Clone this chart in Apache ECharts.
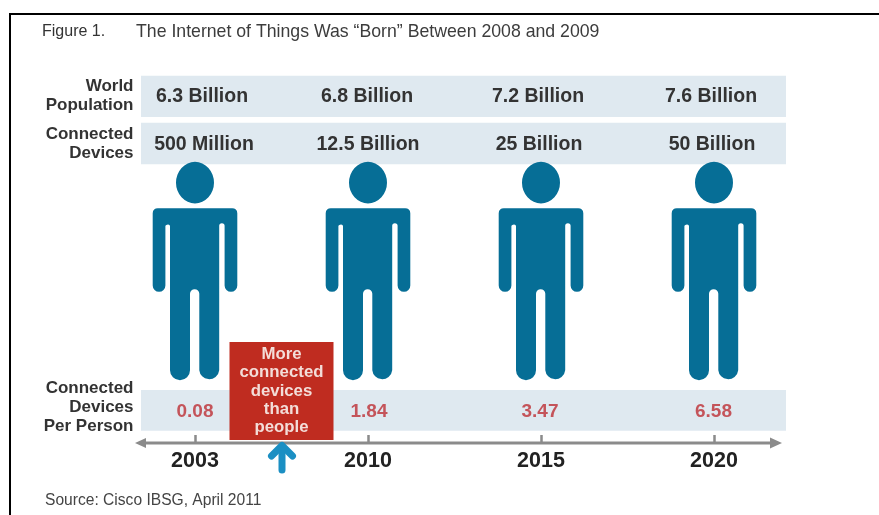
<!DOCTYPE html>
<html>
<head>
<meta charset="utf-8">
<style>html,body{margin:0;padding:0;background:#fff}#chart{width:879px;height:515px}</style>
<script src="https://cdn.jsdelivr.net/npm/echarts@6/dist/echarts.min.js"></script>
</head>
<body>
<div id="chart"></div>
<script>
// Table values
const years = ['2003', '2010', '2015', '2020'];
const worldPopulation = ['6.3 Billion', '6.8 Billion', '7.2 Billion', '7.6 Billion'];
const connectedDevices = ['500 Million', '12.5 Billion', '25 Billion', '50 Billion'];
const devicesPerPerson = [0.08, 1.84, 3.47, 6.58];

// The vertical axis runs in layout units from the top of the page down to the timeline
const AXIS_Y = 443;
const ROW_POPULATION_Y = 96.5;
const ROW_DEVICES_Y = 144.5;
const ROW_RATIO_Y = 411.5;
const PERSON_Y = 271;

const FONT = '"Liberation Sans", Arial, sans-serif';
const BAND = '#dfe9f0';
const BLUE = '#066e96';
const GREY = '#8b8b8b';
const RED_TEXT = '#c4545a';

// Standing figure: head plus body with arms and legs
const PERSON_PATH = 'path://M42.3 0A19 20.8 0 1 1 42.29 0Z' +
  'M5 46.3L79.6 46.3A5 5 0 0 1 84.6 51.3L84.6 123.65A6.35 6.35 0 0 1 71.9 123.65L71.9 64' +
  'A2.7 2.7 0 0 0 66.5 64L66.5 208.3A10 10 0 0 1 46.6 208.3L46.6 132' +
  'A4.65 4.65 0 0 0 37.3 132L37.3 208.3A10 10 0 0 1 17.3 208.3L17.3 64' +
  'A2.7 2.7 0 0 0 12.7 64L12.7 123.65A6.35 6.35 0 0 1 0 123.65L0 51.3A5 5 0 0 1 5 46.3Z';

// One row of centred text, one entry per year
function textRow(name, texts, y, style, offsets) {
  return {
    name, type: 'scatter', symbolSize: 0, silent: true, z: 5,
    itemStyle: { opacity: 1 },
    data: texts.map((t, i) => ({
      value: [years[i], y],
      label: { offset: [offsets ? offsets[i] : 0, 0] }
    })),
    label: Object.assign({
      show: true, position: 'inside', fontFamily: FONT,
      formatter: p => texts[p.dataIndex]
    }, style)
  };
}

function band(y, h) {
  return { type: 'rect', z: 1, shape: { x: 141, y, width: 645, height: h }, style: { fill: BAND } };
}

function rowTitle(lines, y) {
  return {
    type: 'text', z: 3, x: 133.5, y,
    style: {
      text: lines.join('\n'), align: 'right', verticalAlign: 'top', lineHeight: 19,
      font: 'bold 17px ' + FONT, fill: '#333'
    }
  };
}

const chart = echarts.init(document.getElementById('chart'), null, { renderer: 'canvas' });

chart.setOption({
  animation: false,
  backgroundColor: '#ffffff',
  title: [
    { text: 'Figure 1.', left: 37, top: 19, textStyle: { fontFamily: FONT, fontSize: 16, fontWeight: 'normal', color: '#333' } },
    { text: 'The Internet of Things Was \u201cBorn\u201d Between 2008 and 2009', left: 131, top: 18.5, textStyle: { fontFamily: FONT, fontSize: 17.7, fontWeight: 'normal', color: '#3c3c3c' } },
    { text: 'Source: Cisco IBSG, April 2011', left: 40, top: 488, textStyle: { fontFamily: FONT, fontSize: 15.6, fontWeight: 'normal', color: '#444' } }
  ],
  grid: { left: 108.5, width: 692, top: 0, height: AXIS_Y },
  xAxis: {
    type: 'category', data: years, boundaryGap: true,
    axisLine: { show: false, onZero: false },
    axisTick: { show: true, inside: true, alignWithLabel: true, length: 8, lineStyle: { color: GREY, width: 2.5 } },
    axisLabel: { margin: 7, fontFamily: FONT, fontSize: 21.5, fontWeight: 'bold', color: '#222' },
    splitLine: { show: false }
  },
  yAxis: { type: 'value', inverse: true, min: 0, max: AXIS_Y, show: false, splitLine: { show: false } },
  series: [
    {
      name: 'People', type: 'scatter', silent: true, z: 3,
      symbol: PERSON_PATH, symbolSize: [84.6, 218.3], symbolKeepAspect: false,
      itemStyle: { color: BLUE, opacity: 1 },
      data: years.map(y => [y, PERSON_Y])
    },
    textRow('World Population', worldPopulation, ROW_POPULATION_Y,
      { fontSize: 19.5, fontWeight: 'bold', color: '#333' }, [7, -1, -3, -3]),
    textRow('Connected Devices', connectedDevices, ROW_DEVICES_Y,
      { fontSize: 19.5, fontWeight: 'bold', color: '#333' }, [9, 0, -2, -2]),
    textRow('Connected Devices Per Person', devicesPerPerson.map(v => v.toFixed(2)), ROW_RATIO_Y,
      { fontSize: 19, fontWeight: 'bold', color: RED_TEXT }, [0, 1, -1, -0.5])
  ],
  graphic: [
    // Page frame
    { type: 'line', z: 0, shape: { x1: 9, y1: 14, x2: 879, y2: 14 }, style: { stroke: '#000', lineWidth: 2 } },
    { type: 'line', z: 0, shape: { x1: 10, y1: 13, x2: 10, y2: 515 }, style: { stroke: '#000', lineWidth: 2 } },
    // Table rows
    band(75.7, 41.3), band(122.7, 41.6), band(390, 40.7),
    rowTitle(['World', 'Population'], 76.5),
    rowTitle(['Connected', 'Devices'], 124.5),
    rowTitle(['Connected', 'Devices', 'Per Person'], 378.5),
    // Timeline with arrowheads at both ends
    { type: 'line', z: 3, shape: { x1: 142, y1: AXIS_Y, x2: 775, y2: AXIS_Y }, style: { stroke: GREY, lineWidth: 3 } },
    { type: 'polygon', z: 3, shape: { points: [[135, AXIS_Y], [146, AXIS_Y - 5], [146, AXIS_Y + 5]] }, style: { fill: GREY } },
    { type: 'polygon', z: 3, shape: { points: [[782, AXIS_Y], [770, AXIS_Y - 5.5], [770, AXIS_Y + 5.5]] }, style: { fill: GREY } },
    // Crossover callout
    { type: 'rect', z: 6, shape: { x: 229.5, y: 342, width: 104, height: 98 }, style: { fill: '#bf2c20' } },
    {
      type: 'text', z: 7, x: 281.5, y: 345.5,
      style: {
        text: 'More\nconnected\ndevices\nthan\npeople', align: 'center', verticalAlign: 'top',
        lineHeight: 18.2, font: 'bold 16.8px ' + FONT, fill: '#f3ddd8'
      }
    },
    // Marker under the crossover point
    {
      type: 'polyline', z: 6,
      shape: { points: [[271.5, 456], [282, 445.5], [292.5, 456]] },
      style: { stroke: '#1b8fc3', fill: 'none', lineWidth: 7, lineCap: 'round', lineJoin: 'round' }
    },
    {
      type: 'line', z: 6, shape: { x1: 282, y1: 447, x2: 282, y2: 470 },
      style: { stroke: '#1b8fc3', lineWidth: 7, lineCap: 'round' }
    }
  ]
});
</script>
</body>
</html>
